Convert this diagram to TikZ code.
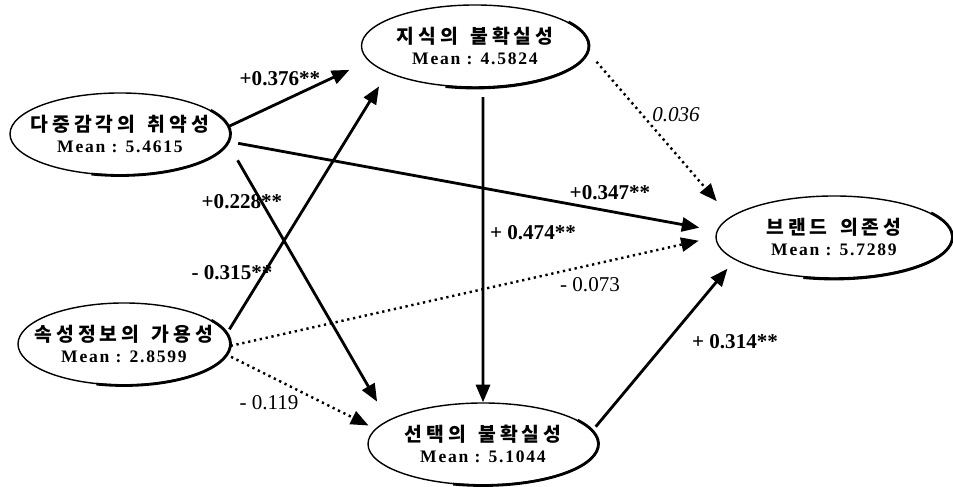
\documentclass[tikz,border=0pt]{standalone}
\usepackage{fontspec}
\setmainfont{Liberation Serif}
\newfontfamily\kr[LetterSpace=20]{Noto Sans CJK KR}
\newfontfamily\meanfont[LetterSpace=10]{Liberation Serif}
\usetikzlibrary{arrows.meta, shapes.geometric, calc}

% zero-width boxes so the ellipse keeps its given size
\newcommand{\krname}[1]{\makebox[0pt]{\kr\bfseries\fontsize{11}{13}\selectfont #1}}
\newcommand{\meanval}[1]{\makebox[0pt]{\meanfont\bfseries\fontsize{10}{12}\selectfont #1}}
\newcommand{\gap}{\hspace{0.65em}}

\begin{document}
\begin{tikzpicture}[
    latent/.style={draw, ellipse, line width=0.8pt, inner sep=0pt,
        minimum height=1.64cm, align=center, font=\fontsize{10}{12}\selectfont},
    sig/.style={-{Triangle[length=10pt, width=8pt]}, line width=1.6pt},
    ns/.style={-{Triangle[length=10pt, width=8pt]}, line width=1.4pt,
        dash pattern=on 1.3pt off 2.1pt},
    coef/.style={font=\bfseries\fontsize{12}{14}\selectfont, inner sep=1pt},
    nscoef/.style={font=\fontsize{12}{14}\selectfont, inner sep=1pt},
]

\useasboundingbox (0,0) rectangle (19.06,9.74);

% ---------------------------------------------------------------- constructs
\node[latent, minimum width=4.40cm] (vul) at (2.40,7.06)
    {\krname{다중감각의\gap 취약성}\\\meanval{Mean : 5.4615}};
\node[latent, minimum width=4.54cm] (know) at (9.50,8.82)
    {\krname{지식의\gap 불확실성}\\\meanval{Mean : 4.5824}};
\node[latent, minimum width=4.72cm] (brand) at (16.68,5.00)
    {\krname{브랜드\gap 의존성}\\\meanval{Mean : 5.7289}};
\node[latent, minimum width=4.24cm] (avail) at (2.48,2.86)
    {\krname{속성정보의\gap 가용성}\\\meanval{Mean : 2.8599}};
\node[latent, minimum width=4.60cm] (choice) at (9.66,0.86)
    {\krname{선택의\gap 불확실성}\\\meanval{Mean : 5.1044}};

% heavier rim on the lower right of each ellipse
\foreach \n/\rx/\ry in {vul/2.21/0.83, know/2.28/0.84, brand/2.37/0.84,
                        avail/2.13/0.83, choice/2.31/0.83} {
    \draw[line width=1.6pt]
        ($(\n.center)+(35:\rx cm and \ry cm)$)
        arc[start angle=35, end angle=-105, x radius=\rx cm, y radius=\ry cm];
}

% ---------------------------------------------------------------- paths
\draw[sig, shorten >=0.42cm] (vul.4) -- (know.188);
\draw[sig, shorten <=0.19cm, shorten >=0.35cm] (vul.-4) -- (brand.177);
\draw[ns, shorten <=0.26cm, shorten >=0.41cm] (know.-3) -- (brand.169);
\draw[ns, shorten >=0.34cm] (avail.-1) -- (brand.180);
\draw[sig, shorten <=0.19cm] (know.-79) -- (choice.90);
\draw[sig, shorten <=0.10cm, shorten >=0.23cm] (choice.7) -- (brand.193);
\draw[sig, shorten <=0.39cm, shorten >=0.43cm] (vul.-5) -- (choice.166);
\draw[sig, shorten <=0.09cm, shorten >=0.32cm] (avail.6) -- (know.197);
\draw[ns, shorten <=0.09cm, shorten >=0.15cm] (avail.-6) -- (choice.172);

% ---------------------------------------------------------------- coefficients
\node[coef] (c376) at (5.60,8.16) {+0.376**};
\node[coef] (c228) at (4.84,5.70) {+0.228**};
\node[coef] (c347) at (12.20,5.88) {+0.347**};
\node[nscoef, font=\itshape\fontsize{12}{14}\selectfont] (c036) at (13.52,7.44) {0.036};
\node[coef] (c474) at (10.66,5.08) {+ 0.474**};
\node[nscoef] (c073) at (11.80,4.04) {- 0.073};
\node[coef] (c314) at (14.70,2.90) {+ 0.314**};
\node[coef] (c315) at (4.64,4.28) {- 0.315**};
\node[nscoef] (c119) at (5.38,1.68) {- 0.119};

\end{tikzpicture}
\end{document}
